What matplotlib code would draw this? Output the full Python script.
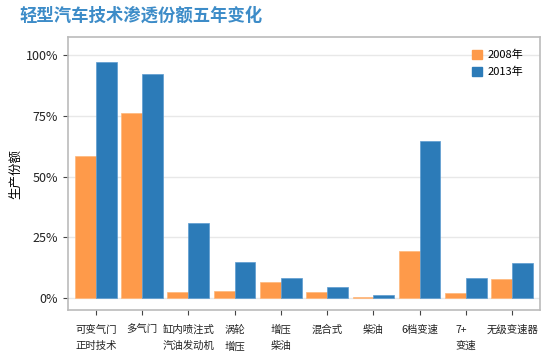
import numpy as np
import matplotlib
matplotlib.use("Agg")
import matplotlib.pyplot as plt
from matplotlib.patches import Patch

plt.rcParams["font.family"] = ["Noto Sans CJK SC", "DejaVu Sans"]

# data
categories = ["可变气门\n正时技术", "多气门", "缸内喷注式\n汽油发动机", "涡轮\n增压", "增压\n柴油",
              "混合式", "柴油", "6档变速", "7+\n变速", "无级变速器"]
share_2008 = [0.585, 0.764, 0.025, 0.030, 0.067, 0.026, 0.004, 0.194, 0.022, 0.079]
share_2013 = [0.973, 0.921, 0.308, 0.148, 0.082, 0.045, 0.011, 0.645, 0.082, 0.144]
series_names = ["2008年", "2013年"]
y_ticks = [0, 0.25, 0.5, 0.75, 1.0]
y_tick_labels = ["0%", "25%", "50%", "75%", "100%"]

orange = "#FE9A4A"
blue = "#2C7BB8"

fig = plt.figure(figsize=(5.47, 3.56), dpi=100)
ax = fig.add_axes([0.1243, 0.129, 0.8627, 0.767])

x = np.arange(1, len(categories) + 1)
w = 0.45
ax.bar(x - w / 2, share_2008, width=w, color=orange, edgecolor="#FFB77A", linewidth=0.5, zorder=3)
ax.bar(x + w / 2, share_2013, width=w, color=blue, edgecolor="#5C9BD0", linewidth=0.5, zorder=3)

ax.set_xlim(0.4, len(categories) + 0.6)
ax.set_ylim(-0.05, 1.075)
ax.set_yticks(y_ticks)
ax.set_yticklabels(y_tick_labels, fontsize=9, color="#222222")
ax.set_xticks(x)
ax.set_xticklabels(categories, fontsize=7.5, color="#222222", linespacing=1.75,
                   multialignment="left")
ax.grid(axis="y", color="#E8E8E8", linewidth=1.0, zorder=0)
ax.tick_params(axis="both", length=3.5, color="#444444", width=0.8)
ax.tick_params(axis="x", pad=7)
for s in ax.spines.values():
    s.set_color("#BBBBBB")
    s.set_linewidth(1.2)

ax.set_ylabel("生产份额", fontsize=9)
ax.yaxis.set_label_coords(-0.097, 0.5)

handles = [Patch(color=orange), Patch(color=blue)]
ax.legend(handles, series_names, loc="upper right", frameon=False, fontsize=8,
          handlelength=0.9, handleheight=0.9, handletextpad=0.5, labelspacing=0.6,
          bbox_to_anchor=(0.985, 0.99))

fig.text(0.035, 0.955, "轻型汽车技术渗透份额五年变化", fontsize=12.5, fontweight="bold",
         color="#3D8CC8", ha="left", va="center", style="italic")

fig.savefig("out.png", dpi=100)
